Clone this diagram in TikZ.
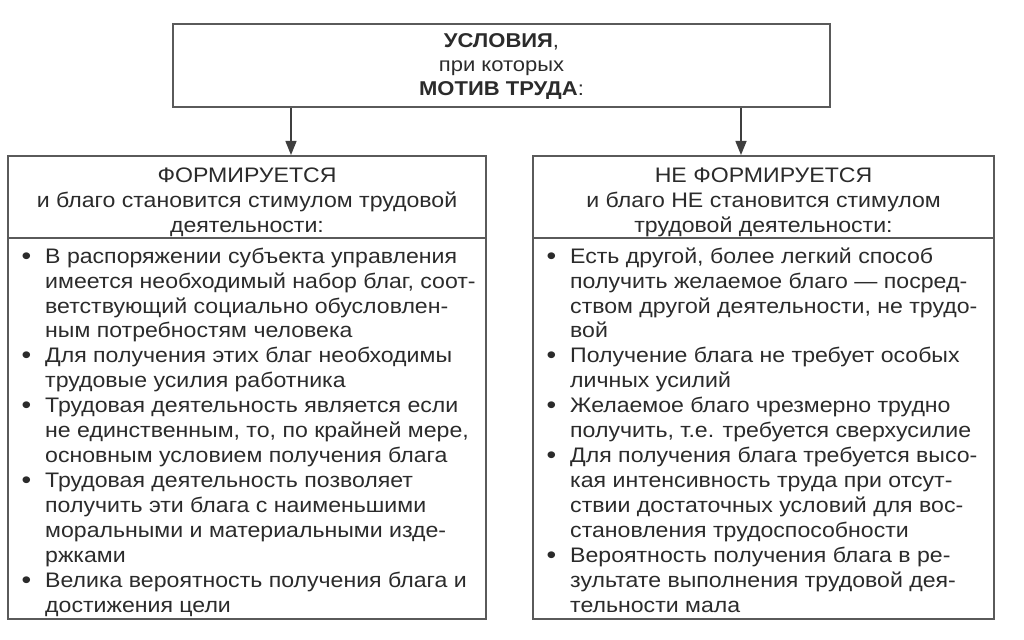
\documentclass[tikz,border=0pt]{standalone}
\usepackage{fontspec}
\setmainfont{Liberation Sans}[FakeStretch=1.1]
\usetikzlibrary{arrows.meta}
\definecolor{txt}{HTML}{2B2B2B}
\definecolor{frame}{HTML}{5A5A5A}
\newcommand\bul{\llap{\raisebox{-1pt}{\fontsize{25}{0}\selectfont\textbullet}\hspace{14pt}}}
\begin{document}
\begin{tikzpicture}[x=1pt,y=-1pt,
  box/.style={draw=frame, line width=2pt, inner sep=0pt},
  sepline/.style={draw=frame, line width=1.8pt},
  arr/.style={draw=frame!70!black, line width=1.4pt, -{Triangle[length=14pt,width=11pt]}},
  toptext/.style={text=txt, font=\fontsize{20}{24}\selectfont, align=center, inner sep=0pt, anchor=north},
  hdr/.style={text=txt, font=\fontsize{21}{25}\selectfont, align=center, inner sep=0pt, anchor=north},
  lst/.style={text=txt, font=\fontsize{21}{24.93}\selectfont, align=left, inner sep=0pt, anchor=north west},
]
\fill[white] (0,0) rectangle (1024,639);
\useasboundingbox (0,0) rectangle (1024,639);

% boxes
\node[box, minimum width=657pt, minimum height=83pt] (top) at (501.5,65.5) {};
\node[box, minimum width=478pt, minimum height=463pt] (L) at (247,387.5) {};
\node[box, minimum width=461pt, minimum height=463pt] (R) at (763.5,387.5) {};

% dividers
\coordinate (d) at (0,238);
\draw[sepline] (L.west |- d) -- (L.east |- d);
\draw[sepline] (R.west |- d) -- (R.east |- d);

% arrows
\coordinate (a1) at (291,0);
\coordinate (a2) at (741,0);
\draw[arr] (top.south -| a1) -- (L.north -| a1);
\draw[arr] (top.south -| a2) -- (R.north -| a2);

% top text
\node[toptext] (toptxt) at (501.5,30.2) {\strut\textbf{УСЛОВИЯ},\\при которых\\\textbf{МОТИВ ТРУДА}:};

% headers
\node[hdr] (Lh) at (247,164.5) {\strut ФОРМИРУЕТСЯ\\и благо становится стимулом трудовой\\деятельности:};
\node[hdr] (Rh) at (763.5,164.5) {\strut НЕ ФОРМИРУЕТСЯ\\и благо НЕ становится стимулом\\трудовой деятельности:};

% lists
\node[lst] (Ll) at (45,245.55) {\strut\bul В распоряжении субъекта управления\\
имеется необходимый набор благ, соот-\\
ветствующий социально обусловлен-\\
ным потребностям человека\\
\bul Для получения этих благ необходимы\\
трудовые усилия работника\\
\bul Трудовая деятельность является если\\
не единственным, то, по крайней мере,\\
основным условием получения блага\\
\bul Трудовая деятельность позволяет\\
получить эти блага с наименьшими\\
моральными и материальными изде-\\
ржками\\
\bul Велика вероятность получения блага и\\
достижения цели};

\node[lst] (Rl) at (570,245.55) {\strut\bul Есть другой, более легкий способ\\
получить желаемое благо — посред-\\
ством другой деятельности, не трудо-\\
вой\\
\bul Получение блага не требует особых\\
личных усилий\\
\bul Желаемое благо чрезмерно трудно\\
получить, т.е. требуется сверхусилие\\
\bul Для получения блага требуется высо-\\
кая интенсивность труда при отсут-\\
ствии достаточных условий для вос-\\
становления трудоспособности\\
\bul Вероятность получения блага в ре-\\
зультате выполнения трудовой дея-\\
тельности мала};
\end{tikzpicture}
\end{document}
